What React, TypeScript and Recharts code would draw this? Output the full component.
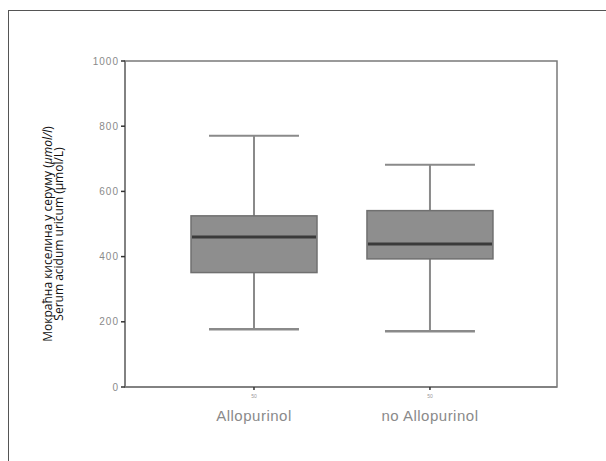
import { BarChart, Bar, XAxis, YAxis, ReferenceArea } from "recharts";

// group names and sample sizes
const categories = ["Allopurinol", "no Allopurinol"];
const counts = [50, 50];

// box plot statistics, µmol/L
const whiskerLow = [177, 171];
const q1 = [351, 393];
const median = [460, 439];
const q3 = [525, 541];
const whiskerHigh = [771, 682];

const yTicks = [0, 200, 400, 600, 800, 1000];
const xTicks = [0, 1];

const data = categories.map((name, i) => ({
  name,
  pos: i,
  n: counts[i],
  low: whiskerLow[i],
  q1: q1[i],
  median: median[i],
  q3: q3[i],
  high: whiskerHigh[i],
  range: [whiskerLow[i], whiskerHigh[i]],
}));

function BoxShape(props: any) {
  const { x, y, width, height, payload } = props;
  const top = Math.min(y, y + height);
  const h = Math.abs(height);
  const k = h / (payload.high - payload.low);
  const py = (v: number) => top + (payload.high - v) * k;
  const cx = x + width / 2;
  const cap = width * 0.357;
  const whisker = "#8a8a8a";
  return (
    <g>
      <line x1={cx} x2={cx} y1={py(payload.high)} y2={py(payload.q3)} stroke={whisker} strokeWidth={2} />
      <line x1={cx} x2={cx} y1={py(payload.q1)} y2={py(payload.low)} stroke={whisker} strokeWidth={2} />
      <line x1={cx - cap} x2={cx + cap} y1={py(payload.high)} y2={py(payload.high)} stroke={whisker} strokeWidth={2} />
      <line x1={cx - cap} x2={cx + cap} y1={py(payload.low)} y2={py(payload.low)} stroke={whisker} strokeWidth={2.5} />
      <rect
        x={x}
        y={py(payload.q3)}
        width={width}
        height={py(payload.q1) - py(payload.q3)}
        fill="#8e8e8e"
        stroke="#707070"
        strokeWidth={1.5}
      />
      <line x1={x + 1} x2={x + width - 1} y1={py(payload.median)} y2={py(payload.median)} stroke="#3a3a3a" strokeWidth={3} />
    </g>
  );
}

function XTick(props: any) {
  const { x, y, payload } = props;
  const i = payload.value;
  return (
    <g>
      <text x={x} y={y + 6} textAnchor="middle" fontSize={5} fill="#999" fontFamily="Liberation Sans, Arial">
        {counts[i]}
      </text>
      <text
        x={x}
        y={y + 29}
        textAnchor="middle"
        fontSize={15}
        letterSpacing={0.5}
        fill="#8a8a8a"
        fontFamily="Liberation Sans, Arial"
      >
        {categories[i]}
      </text>
    </g>
  );
}

function YLabel(props: any) {
  const { viewBox } = props;
  const cy = viewBox.y + viewBox.height / 2 + 10;
  const x1 = 52;
  const x2 = 63;
  return (
    <g fontFamily="Open Sans, Noto Sans" fontSize={12} fill="#111">
      <text x={x1} y={cy} textAnchor="middle" transform={`rotate(-90 ${x1} ${cy})`}>
        Мокраћна киселина у серуму (<tspan fontStyle="italic">µmol/l</tspan>)
      </text>
      <text x={x2} y={cy} textAnchor="middle" transform={`rotate(-90 ${x2} ${cy})`}>
        Serum acidum uricum (µmol/L)
      </text>
    </g>
  );
}

const frame = "#7a7a7a";

export default function App() {
  return (
    <div style={{ position: "absolute", left: 0, top: 0, width: 606, height: 461, background: "#fff" }}>
      <div
        style={{
          position: "absolute",
          left: 8,
          top: 10,
          width: 598,
          height: 451,
          borderTop: "1.5px solid #555",
          borderLeft: "1.5px solid #555",
        }}
      />
      <BarChart
        width={606}
        height={461}
        data={data}
        margin={{ top: 61, right: 49, bottom: 34, left: 58 }}
        style={{ position: "absolute", left: 0, top: 0 }}
      >
        <XAxis
          dataKey="pos"
          type="number"
          domain={[-0.733, 1.722]}
          ticks={xTicks}
          height={40}
          axisLine={{ stroke: frame, strokeWidth: 1.5 }}
          tickLine={{ stroke: "#333", strokeWidth: 1.5 }}
          tickSize={3}
          tick={<XTick />}
          interval={0}
        />
        <YAxis
          domain={[0, 1000]}
          ticks={yTicks}
          width={67}
          axisLine={{ stroke: frame, strokeWidth: 1.5 }}
          tickLine={{ stroke: "#333", strokeWidth: 1.5 }}
          tickSize={4}
          tickMargin={2}
          tick={{ fontSize: 10, fill: "#8a8a8a", fontFamily: "Liberation Sans, Arial", letterSpacing: 1 }}
          label={<YLabel />}
        />
        <ReferenceArea
          x1={-0.733}
          x2={1.722}
          y1={0}
          y2={1000}
          fill="none"
          stroke={frame}
          strokeWidth={1.5}
          ifOverflow="visible"
        />
        <Bar dataKey="range" barSize={126} shape={<BoxShape />} isAnimationActive={false} />
      </BarChart>
    </div>
  );
}
